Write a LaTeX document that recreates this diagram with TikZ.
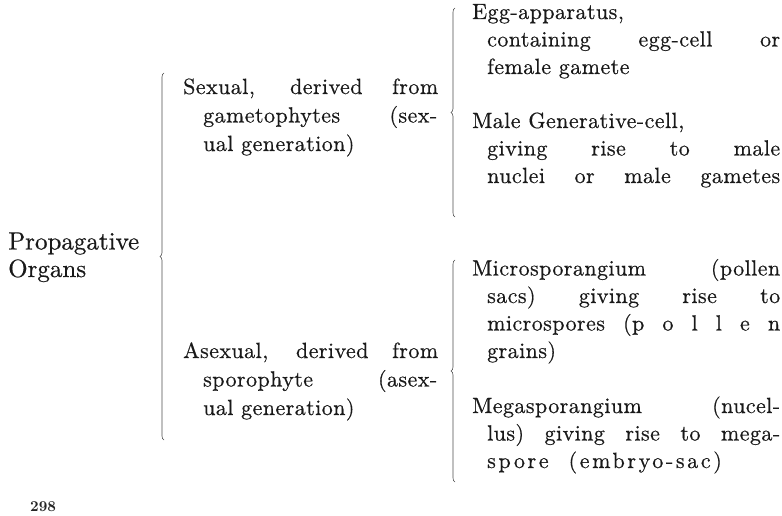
\documentclass[tikz,border=0pt]{standalone}
\usepackage{fontspec}
\usepackage{tikz}
\usetikzlibrary{decorations.pathreplacing,positioning}

\newfontfamily\bookfont{lmroman10-regular.otf}[LetterSpace=2,FakeBold=0.5]
\newfontfamily\headfont{lmroman10-regular.otf}[FakeBold=0.5]
\newfontfamily\folfont{lmroman10-bold.otf}

\newcommand{\hangin}{\hspace*{15pt}}
\newcommand{\hangmid}{\hspace*{20pt}}
\newcommand{\fullR}[1]{\makebox[293pt][s]{#1}}
\newcommand{\firstR}[1]{\makebox[308pt][s]{#1}}
\newcommand{\fullM}[1]{\makebox[234pt][s]{#1}}
\newcommand{\firstM}[1]{\makebox[255pt][s]{#1}}

\begin{document}
\begin{tikzpicture}[
  x=1pt, y=-1pt,
  entry/.style={anchor=base west, align=left, inner sep=0pt, text=black!90,
    font=\bookfont\fontsize{22}{27.5}\selectfont},
  midentry/.style={entry, font=\bookfont\fontsize{22}{28.5}\selectfont},
  headentry/.style={entry, font=\headfont\fontsize{25}{27.5}\selectfont},
  bracket/.style={decorate, decoration={brace, amplitude=4pt}, draw=black!70, line width=0.6pt},
  folio/.style={anchor=base west, inner sep=0pt, text=black!85, font=\folfont\fontsize{15}{17}\selectfont}
]
\useasboundingbox (0,0) rectangle (782,516);

\def\xL{8}
\def\xM{183}
\def\xR{472}

% first column
\node[headentry] (prop) at (\xL, 277) {Propagative\\Organs};

% second column
\node[midentry] (sex) at (\xM, 151) {\firstM{Sexual, derived from}\\
  \hangmid\fullM{gametophytes (sex-}\\
  \hangmid ual generation)};
\node[midentry] (asex) at (\xM, 415) {\firstM{Asexual, derived from}\\
  \hangmid\fullM{sporophyte (asex-}\\
  \hangmid ual generation)};

% third column
\node[entry] (egg) at (\xR, 74) {Egg-apparatus,\\
  \hangin\fullR{containing egg-cell or}\\
  \hangin female gamete};
\node[entry] (male) at (\xR, 183) {Male Generative-cell,\\
  \hangin\fullR{giving rise to male}\\
  \hangin\fullR{nuclei or male gametes}};
\node[entry] (micro) at (\xR, 358) {\firstR{Microsporangium (pollen}\\
  \hangin\fullR{sacs) giving rise to}\\
  \hangin\fullR{microspores (p o l l e n}\\
  \hangin grains)};
\node[entry] (mega) at (\xR, 468) {\firstR{Megasporangium (nucel-}\\
  \hangin\fullR{lus) giving rise to mega-}\\
  \hangin{\addfontfeatures{LetterSpace=12}spore \ (embryo-sac)}};

% braces
\draw[bracket] (164, 440) -- (164, 73);
\draw[bracket] (455, 217) -- (455, 8);
\draw[bracket] (455, 482) -- (455, 260);

\node[folio] (page) at (30, 511) {298};
\end{tikzpicture}
\end{document}
